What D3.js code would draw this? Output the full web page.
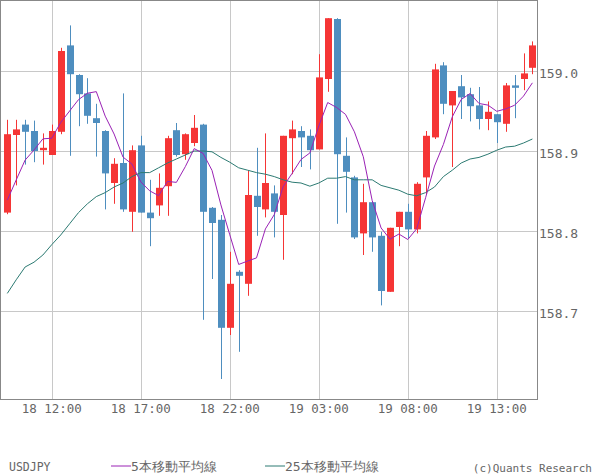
<!DOCTYPE html>
<html><head><meta charset="utf-8">
<script src="https://cdn.jsdelivr.net/npm/d3@7"></script>
<style>body{margin:0;background:#fff}svg text{font-family:"DejaVu Sans Mono",monospace;fill:#666}</style>
</head><body><svg id="c" width="600" height="475"></svg>
<script>
const opens=[158.823,158.920,158.933,158.925,158.901,158.895,158.924,159.032,158.995,158.972,158.941,158.925,158.860,158.885,158.824,158.907,158.823,158.832,158.856,158.926,158.896,158.910,158.933,158.829,158.814,158.679,158.749,158.734,158.844,158.827,158.847,158.820,158.916,158.925,158.919,158.902,158.990,159.065,158.894,158.867,158.797,158.836,158.794,158.724,158.805,158.824,158.802,158.867,158.917,159.007,158.957,158.981,158.971,158.957,158.940,158.946,158.934,158.982,158.990,159.004];
const highs=[158.939,158.939,158.939,158.938,158.922,158.933,159.029,159.057,158.996,158.991,158.959,158.926,158.891,158.972,158.907,158.919,158.864,158.872,158.919,158.935,158.922,158.945,158.934,158.830,158.820,158.774,158.751,158.875,158.904,158.922,158.857,158.919,158.938,158.931,158.927,159.021,159.066,159.066,158.917,158.869,158.859,158.836,158.799,158.804,158.824,158.834,158.861,158.925,159.009,159.011,158.975,158.995,158.979,158.980,158.962,158.946,158.985,158.995,159.022,159.037];
const lows=[158.821,158.857,158.883,158.886,158.883,158.895,158.921,158.894,158.931,158.934,158.893,158.827,158.834,158.824,158.799,158.823,158.781,158.819,158.819,158.893,158.889,158.906,158.689,158.740,158.615,158.670,158.649,158.719,158.794,158.817,158.792,158.764,158.871,158.880,158.877,158.902,158.974,158.809,158.823,158.790,158.770,158.774,158.707,158.724,158.781,158.791,158.797,158.845,158.915,158.946,158.880,158.940,158.937,158.927,158.926,158.910,158.924,158.941,158.976,158.996];
const closes=[158.921,158.927,158.924,158.900,158.904,158.925,159.025,158.996,158.971,158.944,158.935,158.872,158.884,158.827,158.901,158.823,158.816,158.854,158.916,158.895,158.921,158.929,158.824,158.810,158.679,158.734,158.744,158.845,158.830,158.860,158.824,158.919,158.927,158.917,158.901,158.992,159.066,158.896,158.874,158.792,158.836,158.792,158.725,158.804,158.824,158.802,158.859,158.919,159.002,158.959,158.975,158.967,158.956,158.940,158.949,158.936,158.982,158.979,158.997,159.032];
const priorCloses=[158.801,158.800,158.837,158.834];
const ma25=[158.722,158.739,158.755,158.761,158.770,158.783,158.795,158.809,158.823,158.834,158.843,158.848,158.855,158.860,158.868,158.873,158.873,158.879,158.885,158.890,158.895,158.900,158.900,158.899,158.892,158.886,158.879,158.876,158.873,158.871,158.868,158.864,158.861,158.860,158.856,158.860,158.866,158.866,158.868,158.864,158.864,158.864,158.857,158.854,158.851,158.846,158.844,158.848,158.855,158.868,158.876,158.885,158.890,158.892,158.896,158.901,158.905,158.906,158.910,158.915];
const yTicks=[158.7,158.8,158.9,159.0];
const xTickIdx=[5,15,25,35,45,55];
const xTickLabels=["18 12:00","18 17:00","18 22:00","19 03:00","19 08:00","19 13:00"];

const allC=priorCloses.concat(closes);
const ma5=closes.map((c,i)=>d3.mean(allC.slice(i,i+5)));

const svg=d3.select("#c");
const L=1,R=537,T=0.5,B=399;
const x=d3.scaleLinear().domain([0,59]).range([7.3,532.4]);
const y=d3.scaleLinear().domain([158.59,159.08875]).range([399,0]);
const g=svg.append("g");
g.selectAll(".hg").data(yTicks).join("line").attr("x1",L).attr("x2",R).attr("y1",d=>Math.round(y(d))+0.5).attr("y2",d=>Math.round(y(d))+0.5).attr("stroke","#c8c8c8");
g.selectAll(".vg").data(xTickIdx).join("line").attr("y1",T).attr("y2",B).attr("x1",d=>Math.round(x(d))+0.5).attr("x2",d=>Math.round(x(d))+0.5).attr("stroke","#c8c8c8");
const idx=d3.range(closes.length);
const col=i=>closes[i]>=opens[i]?"#f53535":"#4e8ebf";
g.selectAll(".w").data(idx).join("line").attr("x1",i=>Math.round(x(i))+0.5).attr("x2",i=>Math.round(x(i))+0.5).attr("y1",i=>y(highs[i])).attr("y2",i=>y(lows[i])).attr("stroke",col);
g.selectAll(".b").data(idx).join("rect").attr("x",i=>Math.round(x(i))-3).attr("width",7)
 .attr("y",i=>y(Math.max(opens[i],closes[i]))).attr("height",i=>Math.max(1,Math.abs(y(opens[i])-y(closes[i])))).attr("fill",col);
const line=d3.line().x((d,i)=>x(i)).y(d=>y(d));
g.append("path").attr("d",line(ma25)).attr("fill","none").attr("stroke","#2c7a72").attr("stroke-width",1);
g.append("path").attr("d",line(ma5)).attr("fill","none").attr("stroke","#9a22b5").attr("stroke-width",1);
svg.append("rect").attr("x",0.5).attr("y",0.5).attr("width",R).attr("height",B).attr("fill","none").attr("stroke","#888");
svg.selectAll(".yl").data(yTicks).join("text").attr("x",539).attr("y",d=>y(d)+7).attr("font-size",13).text(d=>d.toFixed(1));
svg.selectAll(".xl").data(xTickIdx).join("text").attr("x",d=>x(d)).attr("y",413).attr("text-anchor","middle").attr("font-size",12.5).text((d,i)=>xTickLabels[i]);
const ly=471;
svg.append("text").attr("x",9).attr("y",ly).attr("font-size",11.5).text("USDJPY");
svg.append("line").attr("x1",111).attr("x2",131).attr("y1",ly-5).attr("y2",ly-5).attr("stroke","#9a22b5");
svg.append("text").attr("x",131).attr("y",ly).attr("font-size",13).attr("font-family","Noto Sans CJK JP").text("5本移動平均線");
svg.append("line").attr("x1",265).attr("x2",285).attr("y1",ly-5).attr("y2",ly-5).attr("stroke","#2c7a72");
svg.append("text").attr("x",285).attr("y",ly).attr("font-size",13).attr("font-family","Noto Sans CJK JP").text("25本移動平均線");
svg.append("text").attr("x",592).attr("y",ly+1).attr("text-anchor","end").attr("font-size",11).text("(c)Quants Research");
</script></body></html>
